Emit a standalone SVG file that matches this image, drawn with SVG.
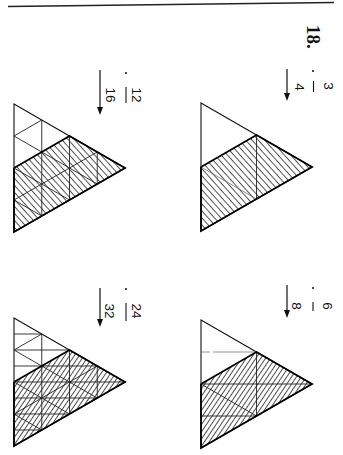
<svg xmlns="http://www.w3.org/2000/svg" width="343" height="455" viewBox="0 0 343 455">
<style>
.ol{fill:none;stroke:#111;stroke-width:1.1;stroke-linejoin:miter}
.thk{fill:none;stroke:#000;stroke-width:1.8;stroke-linejoin:miter}
.g{fill:none;stroke:#222;stroke-width:0.9}
.fa{fill:none;stroke:#777;stroke-width:0.8}
.num{font-family:"Liberation Sans",Arial,sans-serif;font-size:13.5px;fill:#111}
.lbl{font-family:"Liberation Serif","Times New Roman",serif;font-size:19px;font-weight:bold;fill:#111}
.bar{stroke:#111;stroke-width:1.1}
.arr{stroke:#111;stroke-width:1.2;fill:none}
.ah{fill:#111}
</style>
<defs>
<pattern id="hb" patternUnits="userSpaceOnUse" width="6" height="4.7" patternTransform="rotate(48)">
<line x1="0" y1="0.5" x2="6" y2="0.5" stroke="#222" stroke-width="0.8"/>
</pattern>
<pattern id="hf" patternUnits="userSpaceOnUse" width="6" height="4" patternTransform="rotate(-56)">
<line x1="0" y1="0.5" x2="6" y2="0.5" stroke="#222" stroke-width="0.8"/>
</pattern>
</defs>
<line x1="8" y1="6.5" x2="334" y2="2.5" stroke="#222" stroke-width="1.5"/>
<text class="lbl" transform="translate(307,25) rotate(90)">18.</text>

<g id="fig-3-4">
<polygon points="201,167 256.5,135 312,167 201,231" fill="url(#hb)"/>
<polygon class="ol" points="201,103 312,167 201,231"/>
<line class="fa" x1="201" y1="167" x2="256.5" y2="199"/>
<line class="g" x1="256.5" y1="135" x2="256.5" y2="199"/>
<polyline class="thk" points="201,167 256.5,135 312,167 201,231 201,167"/>
<circle cx="313" cy="71" r="1" fill="#111"/>
<text class="num" text-anchor="middle" transform="translate(324,86) rotate(90)">3</text>
<line class="bar" x1="313.5" y1="81" x2="313.5" y2="92"/>
<text class="num" text-anchor="middle" transform="translate(295,87) rotate(90)">4</text>
<line class="arr" x1="287" y1="69" x2="287" y2="94"/>
<polygon class="ah" points="284,93 290,93 287,101"/>
</g>

<g id="fig-6-8">
<polygon points="201,384 256.5,352 312,384 201,448" fill="url(#hf)"/>
<polygon class="ol" points="201,320 312,384 201,448"/>
<line class="fa" x1="201" y1="352" x2="256.5" y2="352" stroke-dasharray="9,3,200,0"/>
<line class="g" x1="201" y1="384" x2="312" y2="384"/>
<line class="g" x1="201" y1="416" x2="256.5" y2="416"/>
<line class="g" x1="201" y1="384" x2="256.5" y2="416"/>
<line class="g" x1="256.5" y1="352" x2="256.5" y2="416"/>
<polyline class="thk" points="201,384 256.5,352 312,384 201,448 201,384"/>
<circle cx="313" cy="288" r="1" fill="#111"/>
<text class="num" text-anchor="middle" transform="translate(323,306) rotate(90)">6</text>
<line class="bar" x1="313" y1="302" x2="313" y2="311"/>
<text class="num" text-anchor="middle" transform="translate(292,306) rotate(90)">8</text>
<line class="arr" x1="287" y1="285" x2="287" y2="311"/>
<polygon class="ah" points="284,310 290,310 287,318"/>
</g>

<g id="fig-12-16">
<polygon points="14,168 69.5,136 125,168 14,232" fill="url(#hb)"/>
<polygon class="ol" points="14,104 125,168 14,232"/>
<g class="g">
<line x1="41.75" y1="120" x2="41.75" y2="216"/>
<line x1="69.5" y1="136" x2="69.5" y2="200"/>
<line x1="97.25" y1="152" x2="97.25" y2="184"/>
<line x1="14" y1="136" x2="97.25" y2="184"/>
<line x1="14" y1="168" x2="69.5" y2="200"/>
<line x1="14" y1="200" x2="41.75" y2="216"/>
<line x1="14" y1="136" x2="41.75" y2="120"/>
<line x1="14" y1="200" x2="97.25" y2="152"/>
</g>
<polyline class="thk" points="14,168 69.5,136 125,168 14,232 14,168"/>
<circle cx="126" cy="73" r="1" fill="#111"/>
<text class="num" text-anchor="middle" transform="translate(132,95) rotate(90)">12</text>
<line class="bar" x1="126" y1="87" x2="126" y2="103"/>
<text class="num" text-anchor="middle" transform="translate(106,95) rotate(90)">16</text>
<line class="arr" x1="100" y1="70" x2="100" y2="108"/>
<polygon class="ah" points="97,107 103,107 100,115"/>
</g>

<g id="fig-24-32">
<polygon points="14,382 69.5,350 125,382 14,446" fill="url(#hf)"/>
<polygon class="ol" points="14,318 125,382 14,446"/>
<g class="g">
<line x1="41.75" y1="334" x2="41.75" y2="430"/>
<line x1="69.5" y1="350" x2="69.5" y2="414"/>
<line x1="97.25" y1="366" x2="97.25" y2="398"/>
<line x1="14" y1="350" x2="97.25" y2="398"/>
<line x1="14" y1="382" x2="69.5" y2="414"/>
<line x1="14" y1="414" x2="41.75" y2="430"/>
<line x1="14" y1="350" x2="41.75" y2="334"/>
<line x1="14" y1="414" x2="97.25" y2="366"/>
<line x1="14" y1="334" x2="41.75" y2="334"/>
<line x1="14" y1="350" x2="69.5" y2="350"/>
<line x1="14" y1="366" x2="97.25" y2="366"/>
<line x1="14" y1="382" x2="125" y2="382"/>
<line x1="14" y1="398" x2="97.25" y2="398"/>
<line x1="14" y1="414" x2="69.5" y2="414"/>
<line x1="14" y1="430" x2="41.75" y2="430"/>
</g>
<polyline class="thk" points="14,382 69.5,350 125,382 14,446 14,382"/>
<circle cx="126" cy="289" r="1" fill="#111"/>
<text class="num" text-anchor="middle" transform="translate(132,311) rotate(90)">24</text>
<line class="bar" x1="126" y1="303" x2="126" y2="321"/>
<text class="num" text-anchor="middle" transform="translate(105,311) rotate(90)">32</text>
<line class="arr" x1="100" y1="288" x2="100" y2="320"/>
<polygon class="ah" points="97,319 103,319 100,327"/>
</g>
</svg>
